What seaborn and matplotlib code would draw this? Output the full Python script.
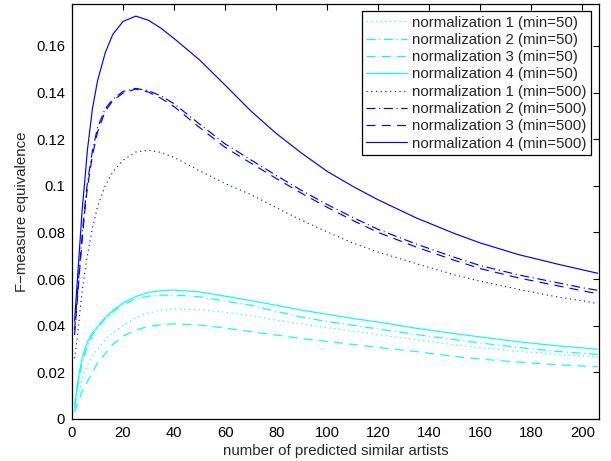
import matplotlib
matplotlib.use("Agg")
import matplotlib.pyplot as plt
import seaborn as sns
import pandas as pd

# ---- data ----
x_vals = [1, 2, 3, 4, 5, 6, 8, 10, 13, 16, 20, 25, 30, 35, 40, 50, 60, 70, 80, 90,
          100, 110, 120, 135, 150, 160, 175, 190, 200, 206]

c1 = [0.004, 0.009, 0.013, 0.017, 0.020, 0.023, 0.027, 0.030, 0.034, 0.037, 0.040, 0.0435,
      0.0455, 0.0467, 0.0472, 0.0468, 0.0458, 0.0443, 0.0424, 0.0408, 0.0392, 0.0377, 0.0362,
      0.0340, 0.0318, 0.0306, 0.0290, 0.0277, 0.0270, 0.0266]
c2 = [0.005, 0.012, 0.019, 0.024, 0.028, 0.031, 0.036, 0.039, 0.043, 0.046, 0.049, 0.0515,
      0.0527, 0.0531, 0.0532, 0.0524, 0.0506, 0.0488, 0.0462, 0.0437, 0.0418, 0.0402, 0.0386,
      0.0362, 0.0340, 0.0326, 0.0307, 0.0290, 0.0282, 0.0277]
c3 = [0.003, 0.006, 0.009, 0.012, 0.014, 0.016, 0.020, 0.024, 0.028, 0.032, 0.0355, 0.0382,
      0.0397, 0.0405, 0.0408, 0.0403, 0.0390, 0.0375, 0.0360, 0.0345, 0.0333, 0.0320, 0.0307,
      0.0289, 0.0268, 0.0257, 0.0244, 0.0233, 0.0227, 0.0224]
c4 = [0.005, 0.014, 0.021, 0.026, 0.030, 0.033, 0.037, 0.0395, 0.0435, 0.0465, 0.0498, 0.0525,
      0.0543, 0.0551, 0.0553, 0.0545, 0.0527, 0.0508, 0.0488, 0.0467, 0.0449, 0.0431, 0.0416,
      0.0389, 0.0366, 0.0352, 0.0331, 0.0314, 0.0305, 0.0299]
b1 = [0.026, 0.034, 0.045, 0.055, 0.063, 0.070, 0.082, 0.091, 0.100, 0.106, 0.111, 0.1145,
      0.1153, 0.1143, 0.1122, 0.1065, 0.1010, 0.0963, 0.0907, 0.0852, 0.0802, 0.0755, 0.0716,
      0.0666, 0.0618, 0.0591, 0.0556, 0.0524, 0.0507, 0.0495]
b2 = [0.038, 0.052, 0.066, 0.079, 0.091, 0.101, 0.115, 0.125, 0.1330, 0.1372, 0.1405, 0.1418,
      0.1408, 0.1385, 0.1352, 0.1265, 0.1180, 0.1112, 0.1045, 0.0980, 0.0920, 0.0865, 0.0813,
      0.0750, 0.0693, 0.0658, 0.0618, 0.0585, 0.0563, 0.0552]
b3 = [0.036, 0.050, 0.064, 0.077, 0.089, 0.099, 0.113, 0.123, 0.1320, 0.1365, 0.1398, 0.1415,
      0.1402, 0.1375, 0.1340, 0.1250, 0.1165, 0.1098, 0.1032, 0.0968, 0.0908, 0.0852, 0.0800,
      0.0737, 0.0680, 0.0645, 0.0605, 0.0572, 0.0550, 0.0537]
b4 = [0.042, 0.058, 0.074, 0.090, 0.102, 0.115, 0.133, 0.145, 0.157, 0.165, 0.1705, 0.1728,
      0.1710, 0.1675, 0.1632, 0.1540, 0.1432, 0.1322, 0.1225, 0.1140, 0.1062, 0.0998, 0.0940,
      0.0862, 0.0795, 0.0755, 0.0705, 0.0665, 0.0640, 0.0625]

series_labels = ["normalization 1 (min=50)", "normalization 2 (min=50)",
                 "normalization 3 (min=50)", "normalization 4 (min=50)",
                 "normalization 1 (min=500)", "normalization 2 (min=500)",
                 "normalization 3 (min=500)", "normalization 4 (min=500)"]
series_values = [c1, c2, c3, c4, b1, b2, b3, b4]

x_ticks = [0, 20, 40, 60, 80, 100, 120, 140, 160, 180, 200]
y_ticks = [0, 0.02, 0.04, 0.06, 0.08, 0.10, 0.12, 0.14, 0.16]
y_tick_labels = ["0", "0.02", "0.04", "0.06", "0.08", "0.1", "0.12", "0.14", "0.16"]

# ---- styling ----
sns.set_theme(style="white")
plt.rcParams["font.family"] = ["Liberation Sans", "DejaVu Sans"]
plt.rcParams["lines.scale_dashes"] = False

colors = ["cyan"] * 4 + ["blue"] * 4
dotted = (0, (0.8, 2.6))
dashdot = (0, (6.5, 2.6, 0.8, 2.6))
dashed = (0, (6.5, 4.5))
solid = "-"
styles = [dotted, dashdot, dashed, solid] * 2

fig = plt.figure(figsize=(6.11, 4.61), dpi=100)
ax = fig.add_axes([72 / 611, 1 - 419 / 461, (599 - 72) / 611, (419 - 4) / 461])

for lab, vals, col, ls in zip(series_labels, series_values, colors, styles):
    df = pd.DataFrame({"x": x_vals, "y": vals})
    sns.lineplot(data=df, x="x", y="y", ax=ax, color=col, linestyle=ls,
                 linewidth=0.85, label=lab, estimator=None, sort=True)

ax.set_xlim(0, 206.5)
ax.set_ylim(0, 0.178)
ax.set_xticks(x_ticks)
ax.set_xticklabels([str(t) for t in x_ticks])
ax.set_yticks(y_ticks)
ax.set_yticklabels(y_tick_labels)
ax.tick_params(direction="in", top=True, right=True, length=4, width=0.8,
               labelsize=10.6, colors="black", pad=5)
for sp in ax.spines.values():
    sp.set_visible(True)
    sp.set_color("black")
    sp.set_linewidth(0.9)

ax.set_xlabel("number of predicted similar artists", fontsize=10.8, labelpad=3)
ax.set_ylabel("F\u2212measure equivalence", fontsize=10.8, labelpad=5)

leg = ax.legend(loc="upper right", bbox_to_anchor=(0.985, 0.983), borderaxespad=0,
                fontsize=10.8, frameon=True, fancybox=False, framealpha=1,
                edgecolor="black", handlelength=2.7, handletextpad=0.35,
                labelspacing=0.22, borderpad=0.3)
leg.get_frame().set_linewidth(0.9)

fig.savefig("out.png", dpi=100, facecolor="white")
